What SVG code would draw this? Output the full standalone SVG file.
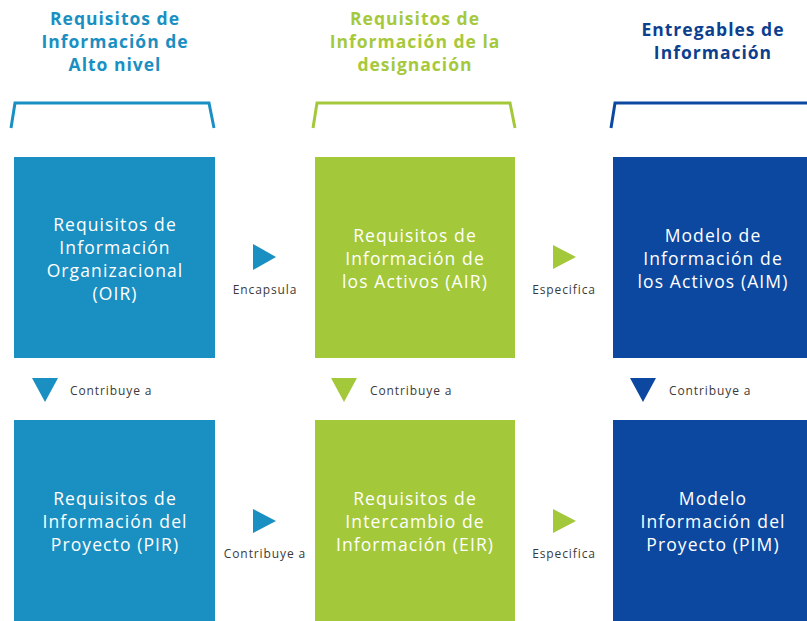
<svg xmlns="http://www.w3.org/2000/svg" width="807" height="621" viewBox="0 0 807 621">
<style>
.hd{font-family:"Open Sans","Noto Sans",sans-serif;font-weight:bold;font-size:17.5px;letter-spacing:1px;text-anchor:middle}
.bx{font-family:"Open Sans","Noto Sans",sans-serif;font-size:17.5px;letter-spacing:1.1px;fill:#ffffff;text-anchor:middle}
.lb{font-family:"Open Sans","Noto Sans",sans-serif;font-size:12px;letter-spacing:0.9px;fill:#3a3a3a}
.c1{fill:#1a8fc1}.c2{fill:#a3c83a}.c3{fill:#0c48a0}
.br{fill:none;stroke-width:3}
</style>
<rect width="807" height="621" fill="#ffffff"/>
<g id="header-1">
<text class="hd" fill="#1a8fc1" x="115" y="25">Requisitos de</text>
<text class="hd" fill="#1a8fc1" x="115" y="48">Información de</text>
<text class="hd" fill="#1a8fc1" x="115" y="71">Alto nivel</text>
<path class="br" stroke="#1a8fc1" d="M11,128 L15,103 L209,103 L214,128"/>
</g>
<g id="header-2">
<text class="hd" fill="#a6c93c" x="415" y="25">Requisitos de</text>
<text class="hd" fill="#a6c93c" x="415" y="48">Información de la</text>
<text class="hd" fill="#a6c93c" x="415" y="71">designación</text>
<path class="br" stroke="#a3c83a" d="M313,128 L317,103 L510,103 L515,128"/>
</g>
<g id="header-3">
<text class="hd" fill="#0d3f8f" x="713" y="36">Entregables de</text>
<text class="hd" fill="#0d3f8f" x="713" y="59">Información</text>
<path class="br" stroke="#0c48a0" d="M611,128 L615,103 L807,103"/>
</g>
<g id="OIR">
<rect class="c1" x="14" y="157" width="201" height="201"/>
<text class="bx" x="115" y="231">Requisitos de</text>
<text class="bx" x="115" y="254">Información</text>
<text class="bx" x="115" y="277">Organizacional</text>
<text class="bx" x="115" y="300">(OIR)</text>
</g>
<g id="AIR">
<rect class="c2" x="315" y="157" width="200" height="201"/>
<text class="bx" x="415" y="242">Requisitos de</text>
<text class="bx" x="415" y="265">Información de</text>
<text class="bx" x="415" y="288">los Activos (AIR)</text>
</g>
<g id="AIM">
<rect class="c3" x="613" y="157" width="194" height="201"/>
<text class="bx" x="713" y="242">Modelo de</text>
<text class="bx" x="713" y="265">Información de</text>
<text class="bx" x="713" y="288">los Activos (AIM)</text>
</g>
<g id="PIR">
<rect class="c1" x="14" y="420" width="201" height="201"/>
<text class="bx" x="115" y="505">Requisitos de</text>
<text class="bx" x="115" y="528">Información del</text>
<text class="bx" x="115" y="551">Proyecto (PIR)</text>
</g>
<g id="EIR">
<rect class="c2" x="315" y="420" width="200" height="201"/>
<text class="bx" x="415" y="505">Requisitos de</text>
<text class="bx" x="415" y="528">Intercambio de</text>
<text class="bx" x="415" y="551">Información (EIR)</text>
</g>
<g id="PIM">
<rect class="c3" x="613" y="420" width="194" height="201"/>
<text class="bx" x="713" y="505">Modelo</text>
<text class="bx" x="713" y="528">Información del</text>
<text class="bx" x="713" y="551">Proyecto (PIM)</text>
</g>
<g id="connectors">
<polygon class="c1" points="253,244 276,257 253,270"/>
<text class="lb" x="265" y="294" text-anchor="middle">Encapsula</text>
<polygon class="c2" points="553,245 576,257 553,269"/>
<text class="lb" x="564" y="294" text-anchor="middle">Especifica</text>
<polygon class="c1" points="253,509 276,521 253,533"/>
<text class="lb" x="265" y="558" text-anchor="middle">Contribuye a</text>
<polygon class="c2" points="553,509 576,521 553,533"/>
<text class="lb" x="564" y="558" text-anchor="middle">Especifica</text>
<polygon class="c1" points="32,378 58,378 45,402"/>
<text class="lb" x="70" y="395">Contribuye a</text>
<polygon class="c2" points="331,378 357,378 344,402"/>
<text class="lb" x="370" y="395">Contribuye a</text>
<polygon class="c3" points="630,378 656,378 643,402"/>
<text class="lb" x="669" y="395">Contribuye a</text>
</g>
</svg>
